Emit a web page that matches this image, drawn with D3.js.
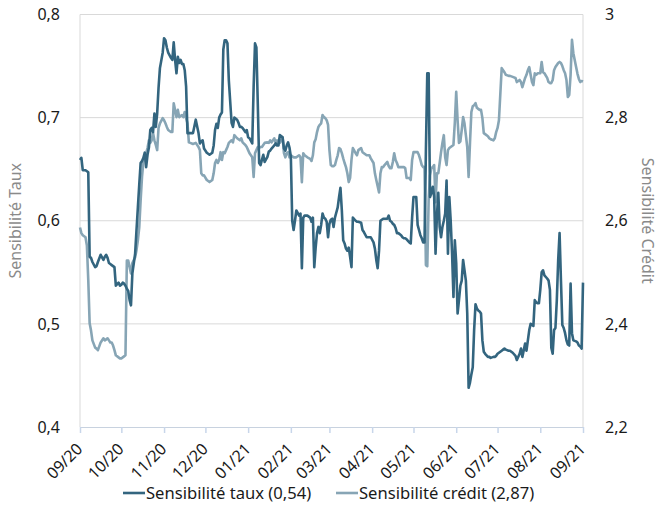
<!DOCTYPE html>
<html lang="fr">
<head>
<meta charset="utf-8">
<script src="https://cdn.jsdelivr.net/npm/d3@7"></script>
<style>
  html, body { margin: 0; padding: 0; background: #ffffff; }
  svg { display: block; font-family: "Noto Sans", "Open Sans", sans-serif; }
</style>
</head>
<body>
<svg id="chart" width="658" height="508"></svg>
<script>
// Observation dates (daily readings, Sept. 2020 – Sept. 2021)
const dates = [
  "2020-09-01","2020-09-02","2020-09-03","2020-09-05","2020-09-06","2020-09-07","2020-09-08","2020-09-09","2020-09-10","2020-09-12",
  "2020-09-13","2020-09-14","2020-09-16","2020-09-18","2020-09-19","2020-09-20","2020-09-21","2020-09-22","2020-09-23","2020-09-24",
  "2020-09-25","2020-09-26","2020-09-27","2020-09-29","2020-09-30","2020-10-01","2020-10-02","2020-10-03","2020-10-04","2020-10-05",
  "2020-10-06","2020-10-07","2020-10-08","2020-10-09","2020-10-11","2020-10-12","2020-10-13","2020-10-14","2020-10-15","2020-10-16",
  "2020-10-17","2020-10-18","2020-10-19","2020-10-20","2020-10-21","2020-10-22","2020-10-23","2020-10-24","2020-10-25","2020-10-26",
  "2020-10-27","2020-10-28","2020-10-29","2020-10-31","2020-11-01","2020-11-02","2020-11-03","2020-11-04","2020-11-06","2020-11-07",
  "2020-11-08","2020-11-09","2020-11-10","2020-11-11","2020-11-12","2020-11-13","2020-11-14","2020-11-15","2020-11-16","2020-11-17",
  "2020-11-18","2020-11-19","2020-11-20","2020-11-22","2020-11-24","2020-11-26","2020-11-27","2020-11-28","2020-11-29","2020-11-30",
  "2020-12-02","2020-12-04","2020-12-06","2020-12-07","2020-12-08","2020-12-09","2020-12-10","2020-12-11","2020-12-12","2020-12-13",
  "2020-12-14","2020-12-15","2020-12-16","2020-12-17","2020-12-18","2020-12-20","2020-12-21","2020-12-22","2020-12-24","2020-12-25",
  "2020-12-26","2020-12-27","2020-12-28","2020-12-30","2020-12-31","2021-01-01","2021-01-02","2021-01-04","2021-01-05","2021-01-06",
  "2021-01-07","2021-01-08","2021-01-09","2021-01-10","2021-01-11","2021-01-12","2021-01-13","2021-01-15","2021-01-16","2021-01-17",
  "2021-01-18","2021-01-20","2021-01-21","2021-01-22","2021-01-23","2021-01-24","2021-01-26","2021-01-27","2021-01-28","2021-01-29",
  "2021-01-30","2021-01-31","2021-02-01","2021-02-02","2021-02-03","2021-02-04","2021-02-05","2021-02-07","2021-02-08","2021-02-09",
  "2021-02-10","2021-02-11","2021-02-12","2021-02-13","2021-02-15","2021-02-16","2021-02-17","2021-02-18","2021-02-19","2021-02-20",
  "2021-02-21","2021-02-22","2021-02-23","2021-02-24","2021-02-25","2021-02-26","2021-02-27","2021-02-28","2021-03-01","2021-03-02",
  "2021-03-03","2021-03-04","2021-03-05","2021-03-06","2021-03-07","2021-03-08","2021-03-09","2021-03-10","2021-03-11","2021-03-12",
  "2021-03-13","2021-03-14","2021-03-15","2021-03-16","2021-03-17","2021-03-18","2021-03-20","2021-03-21","2021-03-22","2021-03-24",
  "2021-03-25","2021-03-26","2021-03-28","2021-03-30","2021-03-31","2021-04-02","2021-04-03","2021-04-04","2021-04-05","2021-04-06",
  "2021-04-07","2021-04-08","2021-04-09","2021-04-10","2021-04-12","2021-04-13","2021-04-14","2021-04-15","2021-04-16","2021-04-17",
  "2021-04-18","2021-04-19","2021-04-20","2021-04-22","2021-04-23","2021-04-24","2021-04-25","2021-04-26","2021-04-28","2021-04-29",
  "2021-04-30","2021-05-01","2021-05-03","2021-05-04","2021-05-05","2021-05-06","2021-05-07","2021-05-08","2021-05-09","2021-05-10",
  "2021-05-11","2021-05-12","2021-05-13","2021-05-14","2021-05-15","2021-05-16","2021-05-17","2021-05-18","2021-05-19","2021-05-20",
  "2021-05-21","2021-05-22","2021-05-23","2021-05-24","2021-05-25","2021-05-26","2021-05-27","2021-05-28","2021-05-29","2021-05-30",
  "2021-05-31","2021-06-01","2021-06-02","2021-06-03","2021-06-04","2021-06-05","2021-06-06","2021-06-07","2021-06-08","2021-06-09",
  "2021-06-10","2021-06-11","2021-06-12","2021-06-13","2021-06-14","2021-06-15","2021-06-16","2021-06-17","2021-06-18","2021-06-19",
  "2021-06-20","2021-06-21","2021-06-22","2021-06-24","2021-06-25","2021-06-26","2021-06-28","2021-06-29","2021-06-30","2021-07-01",
  "2021-07-02","2021-07-04","2021-07-05","2021-07-06","2021-07-07","2021-07-09","2021-07-10","2021-07-12","2021-07-14","2021-07-15",
  "2021-07-17","2021-07-18","2021-07-19","2021-07-21","2021-07-22","2021-07-23","2021-07-24","2021-07-25","2021-07-26","2021-07-27",
  "2021-07-28","2021-07-29","2021-07-30","2021-07-31","2021-08-01","2021-08-02","2021-08-03","2021-08-04","2021-08-06","2021-08-07",
  "2021-08-08","2021-08-09","2021-08-10","2021-08-11","2021-08-12","2021-08-13","2021-08-14","2021-08-15","2021-08-16","2021-08-17",
  "2021-08-18","2021-08-19","2021-08-20","2021-08-21","2021-08-22","2021-08-23","2021-08-24","2021-08-25","2021-08-27","2021-08-28",
  "2021-08-29","2021-08-30","2021-08-31","2021-09-01"
];

// Sensibilité taux (left axis)
const taux = [
  0.659,0.661,0.649,0.649,0.648,0.647,0.565,0.564,0.560,0.555,
  0.556,0.560,0.567,0.562,0.565,0.567,0.564,0.559,0.558,0.557,
  0.556,0.555,0.537,0.540,0.537,0.538,0.540,0.539,0.537,0.534,
  0.532,0.523,0.518,0.549,0.568,0.591,0.613,0.635,0.656,0.658,
  0.661,0.666,0.652,0.664,0.671,0.688,0.690,0.686,0.704,0.691,
  0.704,0.729,0.748,0.763,0.777,0.775,0.768,0.763,0.758,0.756,
  0.773,0.756,0.743,0.759,0.753,0.756,0.752,0.752,0.746,0.730,
  0.685,0.685,0.685,0.685,0.698,0.685,0.675,0.677,0.678,0.670,
  0.666,0.664,0.666,0.673,0.688,0.694,0.690,0.700,0.703,0.705,
  0.766,0.775,0.775,0.772,0.736,0.695,0.691,0.700,0.698,0.695,
  0.691,0.691,0.690,0.686,0.688,0.681,0.680,0.675,0.730,0.772,
  0.768,0.714,0.656,0.654,0.659,0.664,0.657,0.662,0.667,0.668,
  0.670,0.673,0.675,0.673,0.673,0.683,0.681,0.670,0.668,0.673,
  0.676,0.671,0.662,0.600,0.591,0.600,0.610,0.605,0.607,0.554,
  0.603,0.605,0.605,0.605,0.603,0.599,0.603,0.555,0.574,0.588,
  0.594,0.588,0.596,0.607,0.603,0.602,0.599,0.584,0.597,0.601,
  0.602,0.594,0.603,0.608,0.613,0.623,0.632,0.610,0.581,0.578,
  0.573,0.571,0.574,0.565,0.555,0.603,0.600,0.599,0.599,0.598,
  0.591,0.589,0.584,0.584,0.584,0.579,0.573,0.562,0.554,0.571,
  0.600,0.601,0.602,0.602,0.602,0.605,0.600,0.599,0.597,0.596,
  0.593,0.588,0.588,0.586,0.584,0.583,0.583,0.582,0.579,0.578,
  0.603,0.623,0.623,0.596,0.591,0.586,0.583,0.579,0.579,0.668,
  0.743,0.743,0.623,0.627,0.633,0.623,0.568,0.605,0.627,0.594,
  0.584,0.594,0.600,0.607,0.639,0.568,0.623,0.600,0.568,0.526,
  0.581,0.559,0.510,0.523,0.537,0.542,0.562,0.552,0.542,0.510,
  0.438,0.443,0.451,0.458,0.494,0.519,0.515,0.513,0.512,0.510,
  0.484,0.473,0.471,0.468,0.468,0.467,0.468,0.468,0.469,0.471,
  0.472,0.474,0.475,0.476,0.475,0.474,0.474,0.472,0.469,0.465,
  0.471,0.476,0.468,0.481,0.474,0.484,0.494,0.500,0.499,0.498,
  0.523,0.521,0.520,0.520,0.533,0.550,0.552,0.547,0.544,0.542,
  0.533,0.477,0.471,0.494,0.496,0.523,0.562,0.588,0.542,0.499,
  0.496,0.491,0.484,0.480,0.479,0.539,0.491,0.484,0.483,0.482,
  0.479,0.478,0.476,0.540
];

// Sensibilité crédit (right axis)
const credit = [
  2.587,2.576,2.572,2.568,2.552,2.485,2.401,2.387,2.368,2.354,
  2.352,2.349,2.364,2.372,2.368,2.370,2.372,2.368,2.364,2.364,
  2.358,2.349,2.339,2.335,2.333,2.333,2.335,2.337,2.339,2.523,
  2.523,2.510,2.498,2.518,2.529,2.543,2.562,2.587,2.640,2.685,
  2.714,2.723,2.731,2.741,2.756,2.751,2.756,2.770,2.756,2.747,
  2.737,2.780,2.789,2.799,2.795,2.789,2.782,2.776,2.772,2.772,
  2.828,2.815,2.801,2.815,2.801,2.803,2.805,2.801,2.811,2.799,
  2.789,2.752,2.751,2.749,2.751,2.743,2.737,2.692,2.688,2.688,
  2.679,2.675,2.679,2.692,2.712,2.718,2.712,2.718,2.733,2.718,
  2.733,2.731,2.737,2.743,2.751,2.756,2.752,2.766,2.760,2.758,
  2.756,2.760,2.752,2.747,2.743,2.737,2.731,2.723,2.685,2.731,
  2.737,2.743,2.741,2.743,2.743,2.747,2.751,2.752,2.751,2.756,
  2.752,2.760,2.751,2.756,2.751,2.751,2.762,2.731,2.723,2.731,
  2.733,2.723,2.727,2.725,2.723,2.723,2.723,2.727,2.723,2.675,
  2.731,2.727,2.725,2.723,2.720,2.716,2.727,2.752,2.758,2.772,
  2.782,2.786,2.789,2.805,2.801,2.799,2.795,2.786,2.737,2.708,
  2.706,2.706,2.708,2.718,2.727,2.741,2.739,2.731,2.721,2.712,
  2.704,2.692,2.675,2.683,2.718,2.741,2.731,2.727,2.737,2.741,
  2.733,2.731,2.727,2.727,2.721,2.712,2.692,2.679,2.667,2.655,
  2.692,2.704,2.704,2.708,2.714,2.706,2.702,2.702,2.714,2.731,
  2.718,2.712,2.704,2.704,2.704,2.704,2.702,2.683,2.683,2.679,
  2.718,2.733,2.733,2.733,2.727,2.718,2.708,2.704,2.704,2.514,
  2.512,2.640,2.688,2.702,2.704,2.708,2.636,2.692,2.692,2.712,
  2.733,2.751,2.766,2.723,2.708,2.737,2.741,2.743,2.745,2.747,
  2.791,2.850,2.795,2.751,2.754,2.776,2.801,2.789,2.766,2.743,
  2.685,2.751,2.811,2.822,2.824,2.828,2.819,2.817,2.815,2.815,
  2.799,2.770,2.768,2.764,2.760,2.758,2.756,2.760,2.772,2.780,
  2.795,2.896,2.892,2.888,2.883,2.881,2.881,2.879,2.877,2.869,
  2.873,2.869,2.859,2.877,2.883,2.892,2.898,2.883,2.869,2.863,
  2.886,2.883,2.886,2.886,2.886,2.908,2.888,2.886,2.877,2.869,
  2.867,2.867,2.873,2.892,2.898,2.902,2.906,2.908,2.906,2.900,
  2.892,2.886,2.873,2.840,2.844,2.883,2.951,2.925,2.898,2.885,
  2.875,2.869,2.871,2.870
];

const leftTicks = [0.4, 0.5, 0.6, 0.7, 0.8];
const rightTicks = [2.2, 2.4, 2.6, 2.8, 3.0];
const seriesNames = ["Sensibilité taux (0,54)", "Sensibilité crédit (2,87)"];
const axisTitles = ["Sensibilité Taux", "Sensibilité Crédit"];

const colTaux = "#33657f";
const colCredit = "#87a5b5";

const svg = d3.select("#chart");
const plot = { left: 80, right: 583, top: 14.5, bottom: 427 };

const parse = d3.utcParse("%Y-%m-%d");
const rows = dates.map((d, i) => ({ date: parse(d), taux: taux[i], credit: credit[i] }));

const x = d3.scaleUtc()
  .domain([parse("2020-09-01"), parse("2021-09-01")])
  .range([plot.left, plot.right]);
const yL = d3.scaleLinear().domain([0.4, 0.8]).range([plot.bottom, plot.top]);
const yR = d3.scaleLinear().domain([2.2, 3.0]).range([plot.bottom, plot.top]);

const fmtComma = v => d3.format(".1f")(v).replace(".", ",");
const fmtRight = v => (v === 3 ? "3" : fmtComma(v));

// horizontal gridlines
svg.append("g")
  .selectAll("line")
  .data(leftTicks.filter(t => t > 0.4))
  .join("line")
  .attr("x1", plot.left).attr("x2", plot.right)
  .attr("y1", d => yL(d)).attr("y2", d => yL(d))
  .attr("stroke", "#d9d9d9").attr("stroke-width", 1);

// vertical frame lines on both sides
svg.append("line")
  .attr("x1", plot.left).attr("x2", plot.left)
  .attr("y1", plot.top).attr("y2", plot.bottom)
  .attr("stroke", "#d9d9d9");
svg.append("line")
  .attr("x1", plot.right).attr("x2", plot.right)
  .attr("y1", plot.top).attr("y2", plot.bottom)
  .attr("stroke", "#d9d9d9");

// left axis labels
const axL = svg.append("g")
  .attr("transform", `translate(${plot.left},0)`)
  .call(d3.axisLeft(yL).tickValues(leftTicks).tickFormat(fmtComma).tickSize(0).tickPadding(20));
axL.select(".domain").remove();
axL.selectAll("text").attr("font-size", 16).attr("fill", "#1a1a1a")
  .attr("font-family", "'Noto Sans', sans-serif");

// right axis labels
const axR = svg.append("g")
  .attr("transform", `translate(${plot.right},0)`)
  .call(d3.axisRight(yR).tickValues(rightTicks).tickFormat(fmtRight).tickSize(0).tickPadding(22));
axR.select(".domain").remove();
axR.selectAll("text").attr("font-size", 16).attr("fill", "#1a1a1a")
  .attr("font-family", "'Noto Sans', sans-serif");

// bottom time axis
const axB = svg.append("g")
  .attr("transform", `translate(0,${plot.bottom})`)
  .call(d3.axisBottom(x)
    .ticks(d3.utcMonth.every(1))
    .tickFormat(d3.utcFormat("%m/%y"))
    .tickSize(6)
    .tickSizeOuter(0));
axB.select(".domain").attr("stroke", "#c8d2df").attr("stroke-width", 1.2);
axB.selectAll(".tick line").attr("stroke", "#c8d6ea").attr("stroke-width", 1.5);
axB.selectAll("text")
  .attr("font-size", 16).attr("fill", "#1a1a1a")
  .attr("font-family", "'Noto Sans', sans-serif")
  .attr("text-anchor", "end")
  .attr("dy", null)
  .attr("y", null)
  .attr("transform", "translate(3,23) rotate(-45)");

// series lines
const lineCredit = d3.line().x(d => x(d.date)).y(d => yR(d.credit));
const lineTaux = d3.line().x(d => x(d.date)).y(d => yL(d.taux));

svg.append("path")
  .datum(rows)
  .attr("d", lineCredit)
  .attr("fill", "none")
  .attr("stroke", colCredit)
  .attr("stroke-width", 2.6)
  .attr("stroke-linejoin", "round");

svg.append("path")
  .datum(rows)
  .attr("d", lineTaux)
  .attr("fill", "none")
  .attr("stroke", colTaux)
  .attr("stroke-width", 2.6)
  .attr("stroke-linejoin", "round");

// axis titles
svg.append("text")
  .attr("transform", `translate(21,${(plot.top + plot.bottom) / 2}) rotate(-90)`)
  .attr("text-anchor", "middle")
  .attr("font-size", 16).attr("fill", "#8a8a8a")
  .text(axisTitles[0]);
svg.append("text")
  .attr("transform", `translate(642,${(plot.top + plot.bottom) / 2}) rotate(90)`)
  .attr("text-anchor", "middle")
  .attr("font-size", 16).attr("fill", "#8a8a8a")
  .text(axisTitles[1]);

// legend
const legend = svg.append("g").attr("transform", "translate(0,493)");
const legendItems = [
  { name: seriesNames[0], color: colTaux, x: 123 },
  { name: seriesNames[1], color: colCredit, x: 336 }
];
legendItems.forEach(it => {
  legend.append("line")
    .attr("x1", it.x).attr("x2", it.x + 22)
    .attr("y1", 0).attr("y2", 0)
    .attr("stroke", it.color).attr("stroke-width", 2.6);
  legend.append("text")
    .attr("x", it.x + 23).attr("y", 6)
    .attr("font-size", 16.6).attr("fill", "#1a1a1a")
    .text(it.name);
});
</script>
</body>
</html>
